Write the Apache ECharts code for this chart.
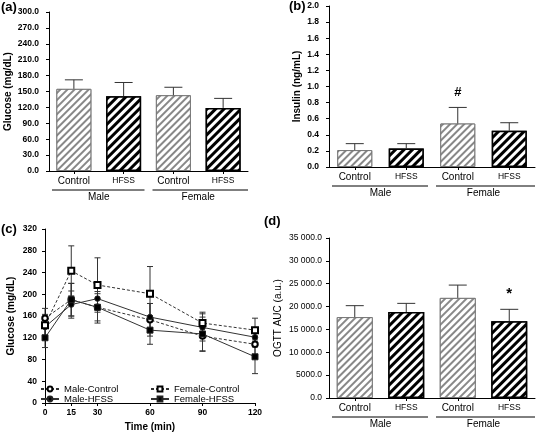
<!DOCTYPE html>
<html><head><meta charset="utf-8">
<script src="https://cdn.jsdelivr.net/npm/echarts@6/dist/echarts.min.js"></script>
<style>html,body{margin:0;padding:0;background:#fff}#c{width:541px;height:433px}</style>
</head><body><div id="c"></div>
<script>
// ---- data ----
const barCats = ['Control', 'HFSS', 'Control', 'HFSS'];
const groupCats = ['Male', 'Female'];
const glucoseMean = [155, 141, 143, 119];
const glucoseErr = [17, 26, 15, 18];
const insulinMean = [0.21, 0.23, 0.54, 0.45];
const insulinErr = [0.08, 0.06, 0.20, 0.10];
const insulinMarks = ['', '', '#', ''];
const aucMean = [17700, 18800, 21900, 16800];
const aucErr = [2500, 1900, 2800, 2600];
const aucMarks = ['', '', '', '*'];
const times = [0, 15, 30, 60, 90, 120];
const maleControl = [156, 190, 176, 153, 123, 108];
const maleControlErr = [18, 30, 25, 30, 28, 20];
const maleHFSS = [140, 181, 192, 158, 139, 121];
const maleHFSSErr = [20, 25, 20, 25, 25, 18];
const femaleControl = [143, 243, 217, 201, 147, 134];
const femaleControlErr = [20, 46, 50, 50, 20, 22];
const femaleHFSS = [120, 190, 176, 134, 127, 85];
const femaleHFSSErr = [18, 30, 29, 26, 31, 31];

const FF = 'Liberation Sans, Arial, sans-serif';
const chart = echarts.init(document.getElementById('c'), null, {renderer: 'canvas'});

const ctrlStyle = {color: '#fff', borderColor: '#777', borderWidth: 1,
  decal: {symbol: 'rect', symbolSize: 1, dashArrayX: [1, 0], dashArrayY: [2, 3], rotation: -Math.PI / 4, color: '#888', backgroundColor: '#fff'}};
const hfssStyle = {color: '#fff', borderColor: '#000', borderWidth: 1.5,
  decal: {symbol: 'rect', symbolSize: 1, dashArrayX: [1, 0], dashArrayY: [3, 3], rotation: -Math.PI / 4, color: '#000', backgroundColor: '#fff'}};

function barData(arr) { return arr.map((v, i) => ({value: v, itemStyle: i % 2 ? hfssStyle : ctrlStyle})); }
function errData(m, e) { return m.map((v, i) => [i, v, e[i]]); }
function lineData(vals) { return times.map((t, i) => [t, vals[i]]); }
function lineErrData(vals, errs) { return times.map((t, i) => [t, vals[i], errs[i]]); }

function barErrRender(params, api) {
  const x = api.value(0), m = api.value(1), e = api.value(2);
  const p0 = api.coord([x, m]), p1 = api.coord([x, m + e]);
  const hw = 9;
  return {type: 'group', children: [
    {type: 'line', shape: {x1: p0[0], y1: p0[1], x2: p1[0], y2: p1[1]}, style: {stroke: '#333', lineWidth: 1}},
    {type: 'line', shape: {x1: p1[0] - hw, y1: p1[1], x2: p1[0] + hw, y2: p1[1]}, style: {stroke: '#333', lineWidth: 1}}
  ]};
}
function markRender(marks, size) {
  return function (params, api) {
    const x = api.value(0), m = api.value(1), e = api.value(2);
    const p1 = api.coord([x, m + e]);
    const t = marks[params.dataIndex];
    if (!t) return null;
    return {type: 'text', x: p1[0], y: p1[1] - 15, style: {text: t, fontSize: size, fontWeight: 'bold', fontFamily: FF, fill: '#000', align: 'center', verticalAlign: 'middle'}};
  };
}
function lineErrRender(params, api) {
  const x = api.value(0), m = api.value(1), e = api.value(2);
  const pa = api.coord([x, m - e]), pb = api.coord([x, m + e]);
  const hw = 3;
  return {type: 'group', children: [
    {type: 'line', shape: {x1: pa[0], y1: pa[1], x2: pb[0], y2: pb[1]}, style: {stroke: '#333', lineWidth: 1}},
    {type: 'line', shape: {x1: pa[0] - hw, y1: pa[1], x2: pa[0] + hw, y2: pa[1]}, style: {stroke: '#333', lineWidth: 1}},
    {type: 'line', shape: {x1: pb[0] - hw, y1: pb[1], x2: pb[0] + hw, y2: pb[1]}, style: {stroke: '#333', lineWidth: 1}}
  ]};
}

const axisLine = {show: true, lineStyle: {color: '#000', width: 1}};
const axisTick = {show: true, length: 3, lineStyle: {color: '#000'}};
function catAxis(grid) {
  return {type: 'category', gridIndex: grid, data: barCats, position: 'bottom',
    axisLine: axisLine, axisTick: {show: true, alignWithLabel: true, length: 3, lineStyle: {color: '#000'}},
    axisLabel: {interval: 0, margin: 5, color: '#000', fontFamily: FF,
      formatter: v => v === 'HFSS' ? '{s|HFSS}' : '{c|' + v + '}',
      rich: {s: {fontSize: 8.5, fontFamily: FF, color: '#000'}, c: {fontSize: 10, fontFamily: FF, color: '#000'}}}};
}
function groupAxis(grid) {
  return {type: 'category', gridIndex: grid, data: groupCats, position: 'bottom', offset: 17,
    axisLine: {show: false}, axisTick: {show: false},
    axisLabel: {interval: 0, margin: 4, fontSize: 10, color: '#000', fontFamily: FF}};
}
function valAxis(grid, min, max, interval, fmt, name, nameGap, bold, margin) {
  return {type: 'value', gridIndex: grid, min: min, max: max, interval: interval,
    axisLine: axisLine, axisTick: axisTick, splitLine: {show: false},
    axisLabel: {margin: margin, fontSize: 8.5, fontWeight: bold ? 'bold' : 'normal', color: '#000', fontFamily: FF, formatter: fmt},
    name: name, nameLocation: 'middle', nameRotate: 90, nameGap: nameGap,
    nameTextStyle: {fontSize: 10, fontWeight: bold ? 'bold' : 'normal', color: '#000', fontFamily: FF}};
}
function fmtAuc(v) {
  if (v >= 10000) {
    const th = Math.floor(v / 1000), rest = v % 1000;
    return th + ' ' + String(rest).padStart(3, '0') + '.0';
  }
  return v.toFixed(1);
}

const lineSeries = [
  {name: 'Male-Control', data: maleControl, err: maleControlErr, symbol: 'emptyCircle', dashed: true},
  {name: 'Male-HFSS', data: maleHFSS, err: maleHFSSErr, symbol: 'circle', dashed: false},
  {name: 'Female-Control', data: femaleControl, err: femaleControlErr, symbol: 'emptyRect', dashed: true},
  {name: 'Female-HFSS', data: femaleHFSS, err: femaleHFSSErr, symbol: 'rect', dashed: false}
];

const series = [
  {type: 'bar', xAxisIndex: 0, yAxisIndex: 0, barWidth: 35, data: barData(glucoseMean), z: 2},
  {type: 'custom', xAxisIndex: 0, yAxisIndex: 0, renderItem: barErrRender, data: errData(glucoseMean, glucoseErr), z: 3},
  {type: 'bar', xAxisIndex: 2, yAxisIndex: 1, barWidth: 35, data: barData(insulinMean), z: 2},
  {type: 'custom', xAxisIndex: 2, yAxisIndex: 1, renderItem: barErrRender, data: errData(insulinMean, insulinErr), z: 3},
  {type: 'custom', xAxisIndex: 2, yAxisIndex: 1, renderItem: markRender(insulinMarks, 13), data: errData(insulinMean, insulinErr), z: 3},
  {type: 'bar', xAxisIndex: 5, yAxisIndex: 3, barWidth: 36, data: barData(aucMean), z: 2},
  {type: 'custom', xAxisIndex: 5, yAxisIndex: 3, renderItem: barErrRender, data: errData(aucMean, aucErr), z: 3},
  {type: 'custom', xAxisIndex: 5, yAxisIndex: 3, renderItem: markRender(aucMarks, 15), data: errData(aucMean, aucErr), z: 3}
];
lineSeries.forEach(s => {
  series.push({type: 'custom', xAxisIndex: 4, yAxisIndex: 2, renderItem: lineErrRender, data: lineErrData(s.data, s.err), z: 2, silent: true});
});
lineSeries.forEach(s => {
  series.push({type: 'line', name: s.name, xAxisIndex: 4, yAxisIndex: 2, data: lineData(s.data),
    symbol: s.symbol, symbolSize: s.symbol.indexOf('ect') >= 0 ? 6 : 5.5, z: 4,
    lineStyle: {color: '#333', width: 1, type: s.dashed ? [3, 2] : 'solid'},
    itemStyle: {color: '#000', borderColor: '#222', borderWidth: 1}});
});

const legendBase = {orient: 'vertical', top: 379, itemWidth: 18, itemHeight: 6, itemGap: 0,
  textStyle: {fontSize: 9.5, lineHeight: 10, color: '#000', fontFamily: FF}, selectedMode: false};
const option = {
  animation: false,
  backgroundColor: '#fff',
  textStyle: {fontFamily: FF},
  grid: [
    {left: 49, top: 12, width: 199, height: 159},
    {left: 329, top: 6, width: 206, height: 161},
    {left: 45, top: 229, width: 210, height: 178},
    {left: 329, top: 238, width: 206, height: 160}
  ],
  xAxis: [
    catAxis(0), groupAxis(0),
    catAxis(1), groupAxis(1),
    {type: 'value', gridIndex: 2, min: 0, max: 120, axisLine: axisLine, splitLine: {show: false},
      axisTick: {show: true, length: 3, lineStyle: {color: '#000'}, customValues: times},
      axisLabel: {margin: 5, fontSize: 8.5, fontWeight: 'bold', color: '#000', fontFamily: FF, customValues: times},
      name: 'Time (min)', nameLocation: 'middle', nameGap: 19,
      nameTextStyle: {fontSize: 10, fontWeight: 'bold', color: '#000', fontFamily: FF}},
    catAxis(3), groupAxis(3)
  ],
  yAxis: [
    valAxis(0, 0, 300, 30, v => v.toFixed(1), 'Glucose (mg/dL)', 36, true, 10),
    valAxis(1, 0, 2, 0.2, v => v.toFixed(1), 'Insulin (ng/mL)', 27, true, 10),
    valAxis(2, 0, 320, 40, v => String(v), 'Glucose (mg/dL)', 29, true, 8),
    valAxis(3, 0, 35000, 5000, fmtAuc, 'OGTT AUC (a.u.)', 46, false, 7)
  ],
  legend: [
    Object.assign({data: ['Male-Control', 'Male-HFSS'], left: 35}, legendBase),
    Object.assign({data: ['Female-Control', 'Female-HFSS'], left: 145}, legendBase)
  ],
  series: series
};
chart.setOption(option);

// panel letters and group underlines
const letters = [['(a)', 1, 1], ['(b)', 289, 0], ['(c)', 1, 223], ['(d)', 264, 215]];
const graphics = letters.map(l => ({type: 'text', left: l[1], top: l[2],
  style: {text: l[0], fontSize: 13, fontWeight: 'bold', fontFamily: FF, fill: '#000'}}));
[[0, 0], [2, 1], [5, 3]].forEach(([xi, yi]) => {
  const c = barCats.map((_, i) => chart.convertToPixel({xAxisIndex: xi}, i));
  const slot = c[1] - c[0];
  const mid = (c[1] + c[2]) / 2;
  const y = chart.convertToPixel({yAxisIndex: yi}, 0) + 19;
  graphics.push({type: 'line', shape: {x1: c[0] - slot / 2 + 3, y1: y, x2: mid - 4, y2: y}, style: {stroke: '#000', lineWidth: 1}});
  graphics.push({type: 'line', shape: {x1: mid + 4, y1: y, x2: c[3] + slot / 2, y2: y}, style: {stroke: '#000', lineWidth: 1}});
});
chart.setOption({graphic: graphics});
</script>
</body></html>
